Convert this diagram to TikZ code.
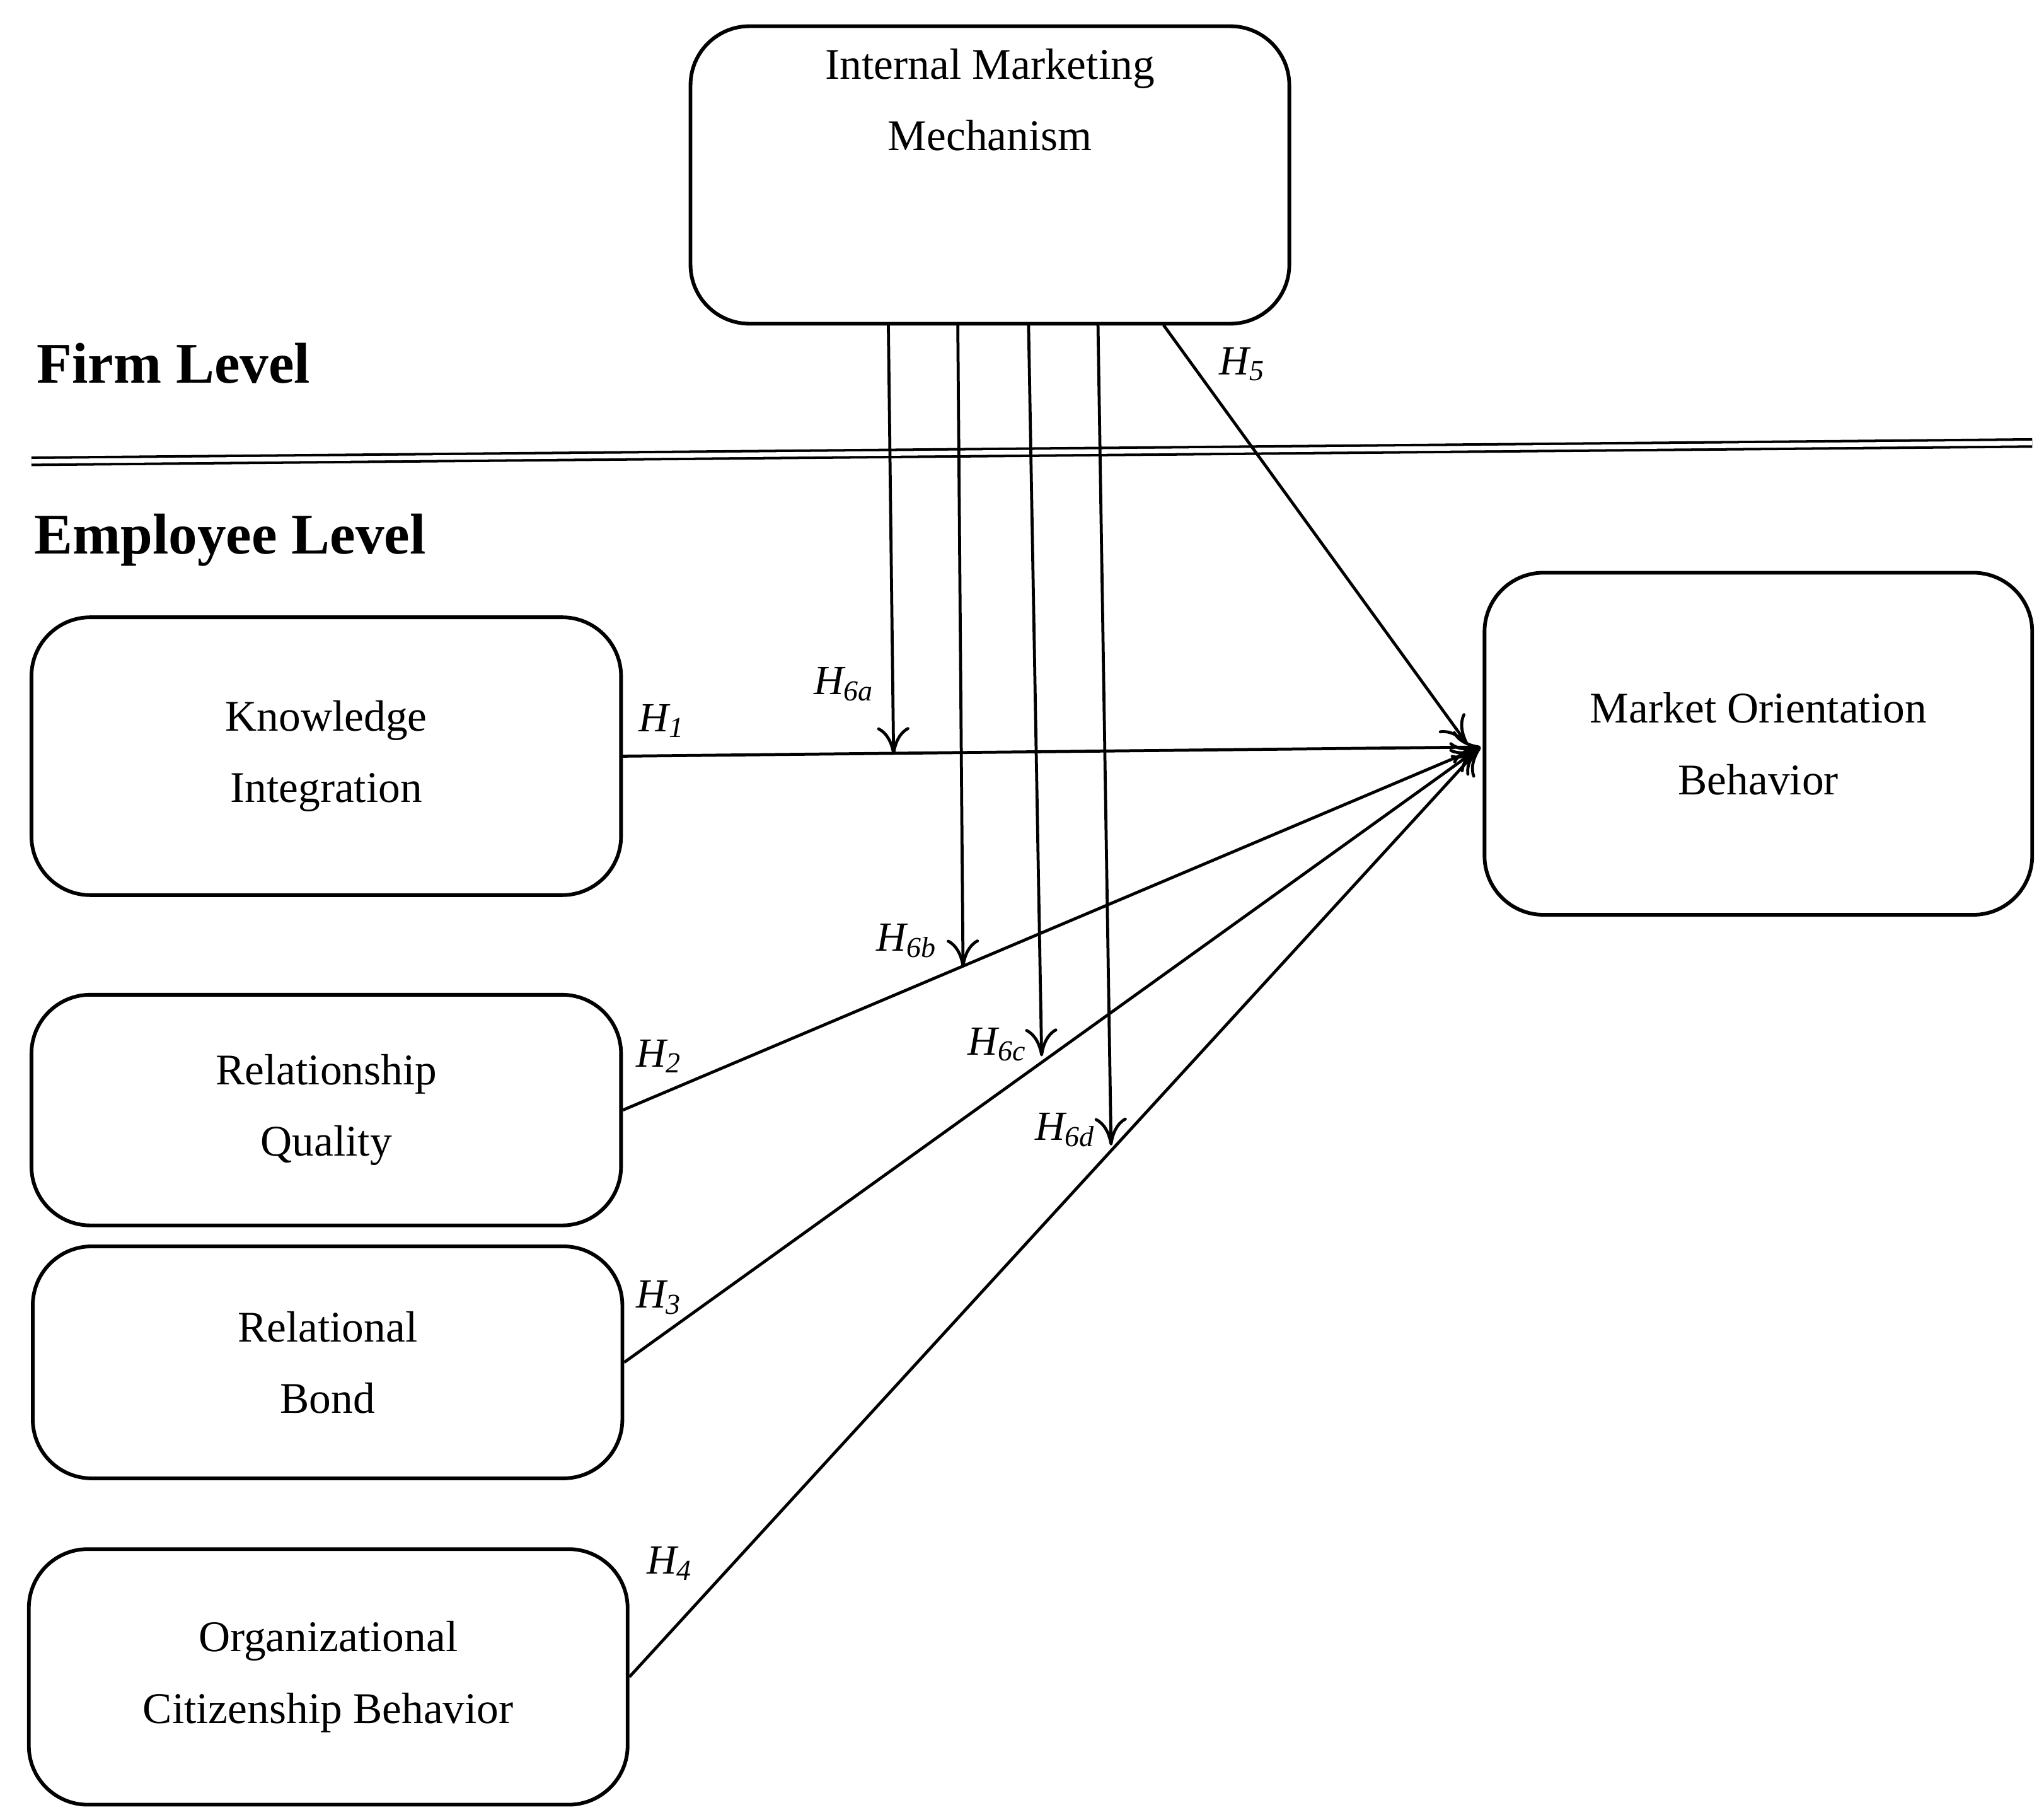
\documentclass[tikz,border=0pt]{standalone}
\usepackage{fontspec}
\setmainfont{Liberation Serif}
\usetikzlibrary{arrows.meta}
\begin{document}
\begin{tikzpicture}[x=0.02cm,y=-0.02cm,
  box/.style={draw,line width=1.6pt,rounded corners=0.9cm,align=center,font=\fontsize{19}{31}\selectfont},
  arr/.style={line width=1.3pt,-{To[length=12pt,width=14pt]}},
  lab/.style={font=\fontsize{18}{20}\selectfont\itshape},
  lvl/.style={font=\fontsize{25}{28}\selectfont\bfseries,anchor=west}]
\useasboundingbox (0,0) rectangle (1560,1381);
\node[box,minimum width=457*0.02cm,minimum height=227*0.02cm,text depth=2.3cm] (imm) at (755.5,133.5) {Internal Marketing\\Mechanism};
\node[box,minimum width=450*0.02cm,minimum height=212*0.02cm] (ki) at (249,577) {Knowledge\\Integration};
\node[box,minimum width=450*0.02cm,minimum height=176*0.02cm] (rq) at (249,847) {Relationship\\Quality};
\node[box,minimum width=450*0.02cm,minimum height=177*0.02cm] (rb) at (250,1039.5) {Relational\\Bond};
\node[box,minimum width=457*0.02cm,minimum height=195*0.02cm] (ocb) at (250.5,1279.5) {Organizational\\Citizenship Behavior};
\node[box,minimum width=418*0.02cm,minimum height=261*0.02cm] (mob) at (1342,567.5) {Market Orientation\\Behavior};
\node[lvl] (fl) at (22,277) {Firm Level};
\node[lvl] (el) at (20,412) {Employee Level};
\coordinate (la) at (24,352); \coordinate (lb) at (1551,338);
\draw[double,double distance=2pt,line width=1.1pt] (la) -- (lb);
\coordinate (mt) at (1130,570);
\coordinate (kiR) at (474,577);
\draw[arr] (kiR) -- (mt);
\draw[arr] (rq.east) -- (mt);
\draw[arr] (rb.east) -- (mt);
\draw[arr] (ocb.east) -- (mt);
\coordinate (s5) at (888,248);
\draw[arr] (s5) -- (1120,568);
\coordinate (s1) at (678,248); \coordinate (e1) at (682,576);
\coordinate (s2) at (731,248); \coordinate (e2) at (735,738);
\coordinate (s3) at (785,248); \coordinate (e3) at (795,806);
\coordinate (s4) at (838,248); \coordinate (e4) at (848,874);
\draw[arr] (s1) -- (e1);
\draw[arr] (s2) -- (e2);
\draw[arr] (s3) -- (e3);
\draw[arr] (s4) -- (e4);
\node[lab] (h1) at (505,550) {H\textsubscript{1}};
\node[lab] (h2) at (503,806) {H\textsubscript{2}};
\node[lab] (h3) at (503,990) {H\textsubscript{3}};
\node[lab] (h4) at (511,1193) {H\textsubscript{4}};
\node[lab] (h5) at (948,278) {H\textsubscript{5}};
\node[lab] (h6a) at (644,522) {H\textsubscript{6a}};
\node[lab] (h6b) at (692,718) {H\textsubscript{6b}};
\node[lab] (h6c) at (761,797) {H\textsubscript{6c}};
\node[lab] (h6d) at (813,862) {H\textsubscript{6d}};
\end{tikzpicture}
\end{document}
